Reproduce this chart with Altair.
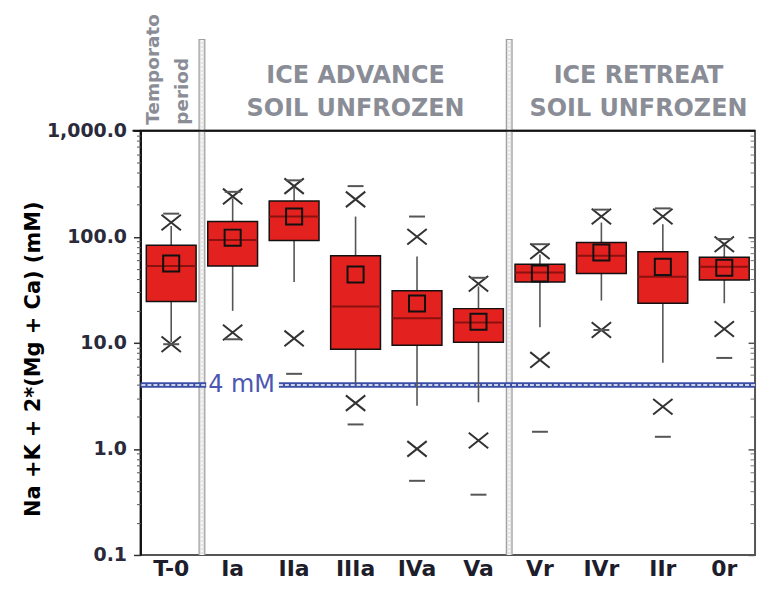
import altair as alt
import pandas as pd

cats = ["T-0", "Ia", "IIa", "IIIa", "IVa", "Va", "Vr", "IVr", "IIr", "0r"]
q1 = [24.5, 53, 92, 8.7, 9.5, 10.1, 37.5, 45, 23.6, 39]
q3 = [83, 139, 217, 66, 31, 21, 55, 88, 72, 64]
median = [53, 93, 155, 22, 17, 15.5, 46, 66, 42, 52]
mean = [56, 98, 155, 44, 23.5, 15.8, 45, 71, 52, 51]
whisk_lo = [10.2, 20, 37.5, 4.1, 2.55, 2.75, 14, 25, 6.5, 23.6]
whisk_hi = [126, 230, 290, 155, 65, 34, 68, 136, 131, 88]
x_lo = [9.7, 12.5, 11, 2.7, 1.0, 1.2, 6.9, 13.2, 2.5, 13.5]
x_hi = [136, 240, 300, 225, 100, 36, 73, 155, 155, 85]
d_min = [9.7, 10.8, 5.1, 1.7, 0.5, 0.37, 1.45, 13.2, 1.3, 7.2]
d_max = [165, 265, 340, 300, 155, 41, 85, 180, 185, 95]

major_ticks = [0.1, 1, 10, 100, 1000]
minor_ticks = [k * 10.0 ** e for e in range(-1, 3) for k in range(2, 10)]
boundaries = ["Ia", "Vr"]
threshold = [4]
threshold_label = "4 mM"
y_title = "Na +K + 2*(Mg + Ca) (mM)"
hdr_adv = "ICE ADVANCE\nSOIL UNFROZEN"
hdr_ret = "ICE RETREAT\nSOIL UNFROZEN"
hdr_t1 = "Temporato"
hdr_t2 = "period"

df = pd.DataFrame({"cat": cats, "q1": q1, "q3": q3, "med": median, "mean": mean,
                   "wlo": whisk_lo, "whi": whisk_hi, "xlo": x_lo, "xhi": x_hi,
                   "dmin": d_min, "dmax": d_max})
sep = pd.DataFrame({"cat": boundaries})
thr = pd.DataFrame({"v": threshold})
one = pd.DataFrame({"a": [0]})

W, H = 617, 426
FONT = "DejaVu Sans"
HDR = "#8a8d96"

xs = alt.Scale(domain=cats, paddingInner=0, paddingOuter=0)
ys = alt.Scale(type="log", domain=[0.1, 1000], nice=False)

x_axis = alt.Axis(orient="bottom", title=None, labelAngle=0, labelFont=FONT, labelFontSize=22,
                  labelFontWeight="bold", labelColor="#1d1d2b", ticks=False, domain=False,
                  labelPadding=4, labelOverlap=False, grid=False)

def X(**kw):
    return alt.X("cat:N", scale=xs, axis=x_axis, **kw)

major_left = alt.Axis(values=major_ticks, format=",.1f", orient="left", title=y_title,
                      titleFont=FONT, titleFontSize=21, titleFontWeight="bold", titleColor="#000",
                      titlePadding=3, titleY=229, labelFont=FONT, labelFontSize=19,
                      labelFontWeight="bold", labelColor="#2a2a3a", labelPadding=7, tickSize=7,
                      tickColor="#333", tickWidth=1.5, domainColor="#111", domainWidth=2,
                      grid=False, labelOverlap=False)
minor_left = alt.Axis(values=minor_ticks, orient="left", labels=False, title=None, domain=False,
                      tickSize=4, tickColor="#555", grid=False)
major_right = alt.Axis(values=major_ticks, orient="right", labels=False, title=None, domain=False,
                       tickSize=6, offset=-7, tickColor="#555", tickWidth=1.5, grid=False)
minor_right = alt.Axis(values=minor_ticks, orient="right", labels=False, title=None, domain=False,
                       tickSize=4, offset=-5, tickColor="#777", grid=False)

base = alt.Chart(df)

sep1 = alt.Chart(sep).mark_rule(color="#a0a0a0", strokeWidth=7).encode(
    x=X(bandPosition=0), y=alt.value(-92), y2=alt.value(H))
sep2 = alt.Chart(sep).mark_rule(color="#e4e4e4", strokeWidth=4.5).encode(
    x=X(bandPosition=0), y=alt.value(-91), y2=alt.value(H))
sep3 = alt.Chart(sep).mark_rule(color="#ffffff", strokeWidth=1.5, strokeDash=[2, 2]).encode(
    x=X(bandPosition=0), y=alt.value(-91), y2=alt.value(H))

thr1 = alt.Chart(thr).mark_rule(color="#3a4ea5", strokeWidth=5.5).encode(
    y=alt.Y("v:Q", scale=ys, axis=None))
thr2 = alt.Chart(thr).mark_rule(color="#ffffff", strokeWidth=1.5, strokeDash=[4, 2]).encode(
    y=alt.Y("v:Q", scale=ys, axis=None))
thr_gap = alt.Chart(thr).mark_rule(color="#ffffff", strokeWidth=10).encode(
    y=alt.Y("v:Q", scale=ys, axis=None), x=alt.value(66), x2=alt.value(139))
thr_txt = alt.Chart(thr).mark_text(align="left", baseline="middle", font=FONT, fontSize=24,
                                   color="#4c56b3", text=threshold_label).encode(
    y=alt.Y("v:Q", scale=ys, axis=None), x=alt.value(68))

whisk = base.mark_rule(color="#555", strokeWidth=1.6).encode(
    x=X(), y=alt.Y("wlo:Q", scale=ys, axis=major_left), y2="whi:Q")
box = base.mark_bar(width=50, color="#e3221f", stroke="#111", strokeWidth=1.5).encode(
    x=X(), y=alt.Y("q1:Q", scale=ys, axis=minor_left), y2="q3:Q")
med = base.mark_tick(size=50, thickness=2, color="#8b1010", opacity=1).encode(
    x=X(), y=alt.Y("med:Q", scale=ys, axis=major_right))
mn = base.mark_point(shape="square", filled=False, color="#111", strokeWidth=2, size=260,
                     opacity=1).encode(
    x=X(), y=alt.Y("mean:Q", scale=ys, axis=minor_right))
xs_mark = base.transform_fold(["xlo", "xhi"], as_=["k", "v"]).mark_point(
    shape="M-1,-0.8L1,0.8M-1,0.8L1,-0.8", filled=False, color="#333", strokeWidth=2,
    size=380, opacity=1).encode(x=X(), y=alt.Y("v:Q", scale=ys, axis=None))
dash_mark = base.transform_fold(["dmin", "dmax"], as_=["k", "v"]).mark_point(
    shape="M-1,0L1,0", filled=False, color="#555", strokeWidth=2, size=256,
    opacity=1).encode(x=X(), y=alt.Y("v:Q", scale=ys, axis=None))

top = alt.Chart(one).mark_rule(color="#111", strokeWidth=2).encode(
    x=alt.value(-8), x2=alt.value(W), y=alt.value(0))

h_adv = alt.Chart(one).mark_text(align="center", baseline="top", font=FONT, fontSize=24,
                                 fontWeight="bold", color=HDR, lineBreak="\n", lineHeight=33,
                                 text=hdr_adv).encode(x=alt.value(216), y=alt.value(-67))
h_ret = alt.Chart(one).mark_text(align="center", baseline="top", font=FONT, fontSize=24,
                                 fontWeight="bold", color=HDR, lineBreak="\n", lineHeight=33,
                                 text=hdr_ret).encode(x=alt.value(500), y=alt.value(-67))
h_t1 = alt.Chart(one).mark_text(align="left", baseline="middle", angle=270, font=FONT,
                                fontSize=18.5, fontWeight="bold", color=HDR,
                                text=hdr_t1).encode(x=alt.value(13), y=alt.value(-6))
h_t2 = alt.Chart(one).mark_text(align="left", baseline="middle", angle=270, font=FONT,
                                fontSize=18.5, fontWeight="bold", color=HDR,
                                text=hdr_t2).encode(x=alt.value(42), y=alt.value(-6))

chart = alt.layer(
    sep1, sep2, sep3, thr1, thr2, thr_gap, thr_txt, whisk, box, med, mn,
    xs_mark, dash_mark, top, h_adv, h_ret, h_t1, h_t2
).resolve_axis(y="independent").properties(
    width=W, height=H,
    autosize=alt.AutoSizeParams(type="none"),
    padding={"left": 133, "top": 122, "right": 6, "bottom": 24},
    background="white",
).configure_view(stroke="#555", strokeWidth=2)

chart.save("out.html", embed_options={"renderer": "svg", "actions": False})
